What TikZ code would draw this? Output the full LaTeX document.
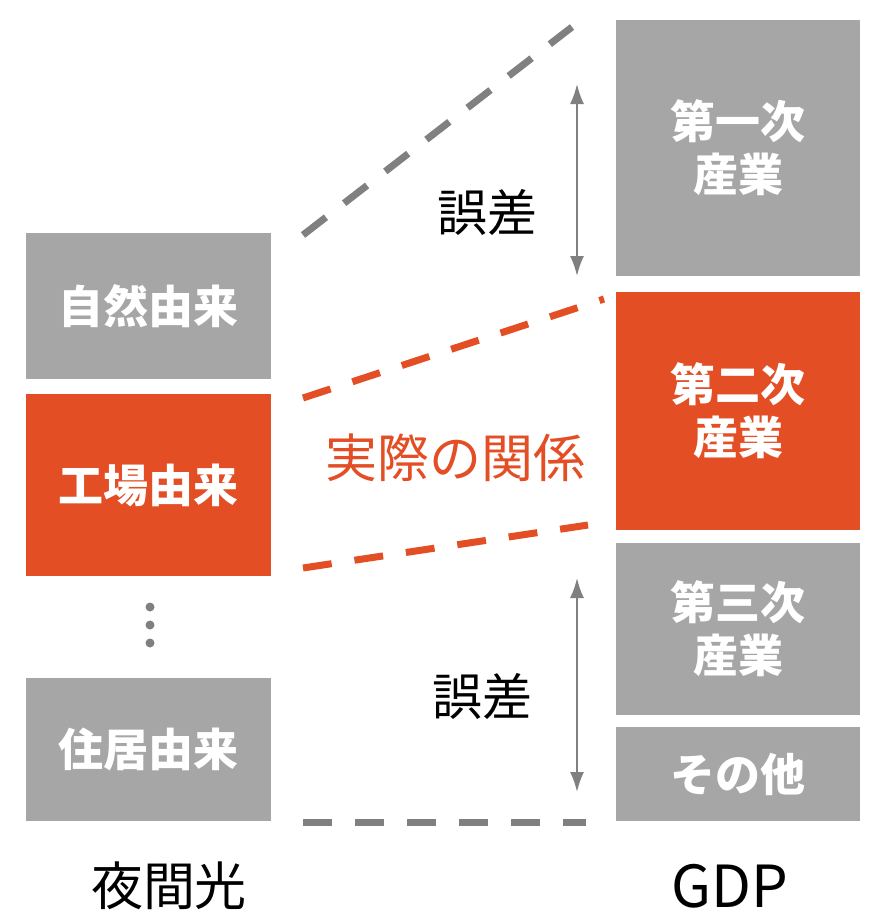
\documentclass[tikz,border=0pt]{standalone}
\usepackage{fontspec}
\newfontfamily\jp{Noto Sans CJK JP}
\usetikzlibrary{arrows.meta}
\definecolor{boxgray}{HTML}{A6A6A6}
\definecolor{lnGray}{HTML}{808080}
\definecolor{myorange}{HTML}{E34E25}
\begin{document}
\begin{tikzpicture}[x=1pt,y=-1pt,
  boxbase/.style={draw=none,inner sep=0pt,text=white,align=center,
    font=\jp\bfseries\fontsize{45}{53}\selectfont},
  gbox/.style={boxbase,fill=boxgray},
  obox/.style={boxbase,fill=myorange},
  gdash/.style={draw=lnGray,line width=7pt,dash pattern=on 29pt off 23pt},
  odash/.style={draw=myorange,line width=7pt,dash pattern=on 29pt off 23pt},
  errarrow/.style={draw=lnGray,line width=2pt,{Latex[length=20pt,width=14pt]}-{Latex[length=20pt,width=14pt]}},
  lbl/.style={font=\jp\fontsize{50}{58}\selectfont,inner sep=0pt},
  dotmark/.style={circle,fill=lnGray,inner sep=0pt,minimum size=9pt}
]
\useasboundingbox (0,0) rectangle (877,922);
% left boxes
\node[gbox,minimum width=245pt,minimum height=146pt] (shizen) at (148.5,306) {自然由来};
\node[obox,minimum width=245pt,minimum height=182pt] (kojo) at (148.5,485) {工場由来};
\node[gbox,minimum width=245pt,minimum height=143pt] (jukyo) at (148.5,749.5) {住居由来};
\node[dotmark] (d1) at (150,607) {};
\node[dotmark] (d2) at (150,625) {};
\node[dotmark] (d3) at (150,643) {};
% right boxes
\node[gbox,minimum width=244pt,minimum height=256pt] (dai1) at (738,148) {第一次\\産業};
\node[obox,minimum width=244pt,minimum height=238pt] (dai2) at (738,411) {第二次\\産業};
\node[gbox,minimum width=244pt,minimum height=172pt] (dai3) at (738,629) {第三次\\産業};
\node[gbox,minimum width=244pt,minimum height=94pt] (sonota) at (738,774) {その他};
% dashed line endpoints
\coordinate (a1) at (303,235);
\coordinate (a2) at (572,27);
\coordinate (b1) at (303,398);
\coordinate (b2) at (604,299);
\coordinate (c1) at (303,568);
\coordinate (c2) at (588,525);
\coordinate (e1) at (303,822);
\coordinate (e2) at (586,822);
\draw[gdash] (a1) -- (a2);
\draw[odash] (b1) -- (b2);
\draw[odash] (c1) -- (c2);
\draw[gdash] (e1) -- (e2);
% arrows
\coordinate (t1) at (577,84);
\coordinate (t2) at (577,276);
\coordinate (u1) at (577,578);
\coordinate (u2) at (577,792);
\draw[errarrow] (t1) -- (t2);
\draw[errarrow] (u1) -- (u2);
% labels
\node[lbl] (err1) at (487,212) {誤差};
\node[lbl,text=myorange,font=\jp\fontsize{52}{60}\selectfont] (rel) at (455,458) {実際の関係};
\node[lbl] (err2) at (482,696) {誤差};
\node[lbl,font=\jp\fontsize{52}{60}\selectfont] (yakan) at (169,886) {夜間光};
\node[lbl,font=\jp\fontsize{58}{66}\selectfont] (gdp) at (730,886) {GDP};
\end{tikzpicture}
\end{document}
